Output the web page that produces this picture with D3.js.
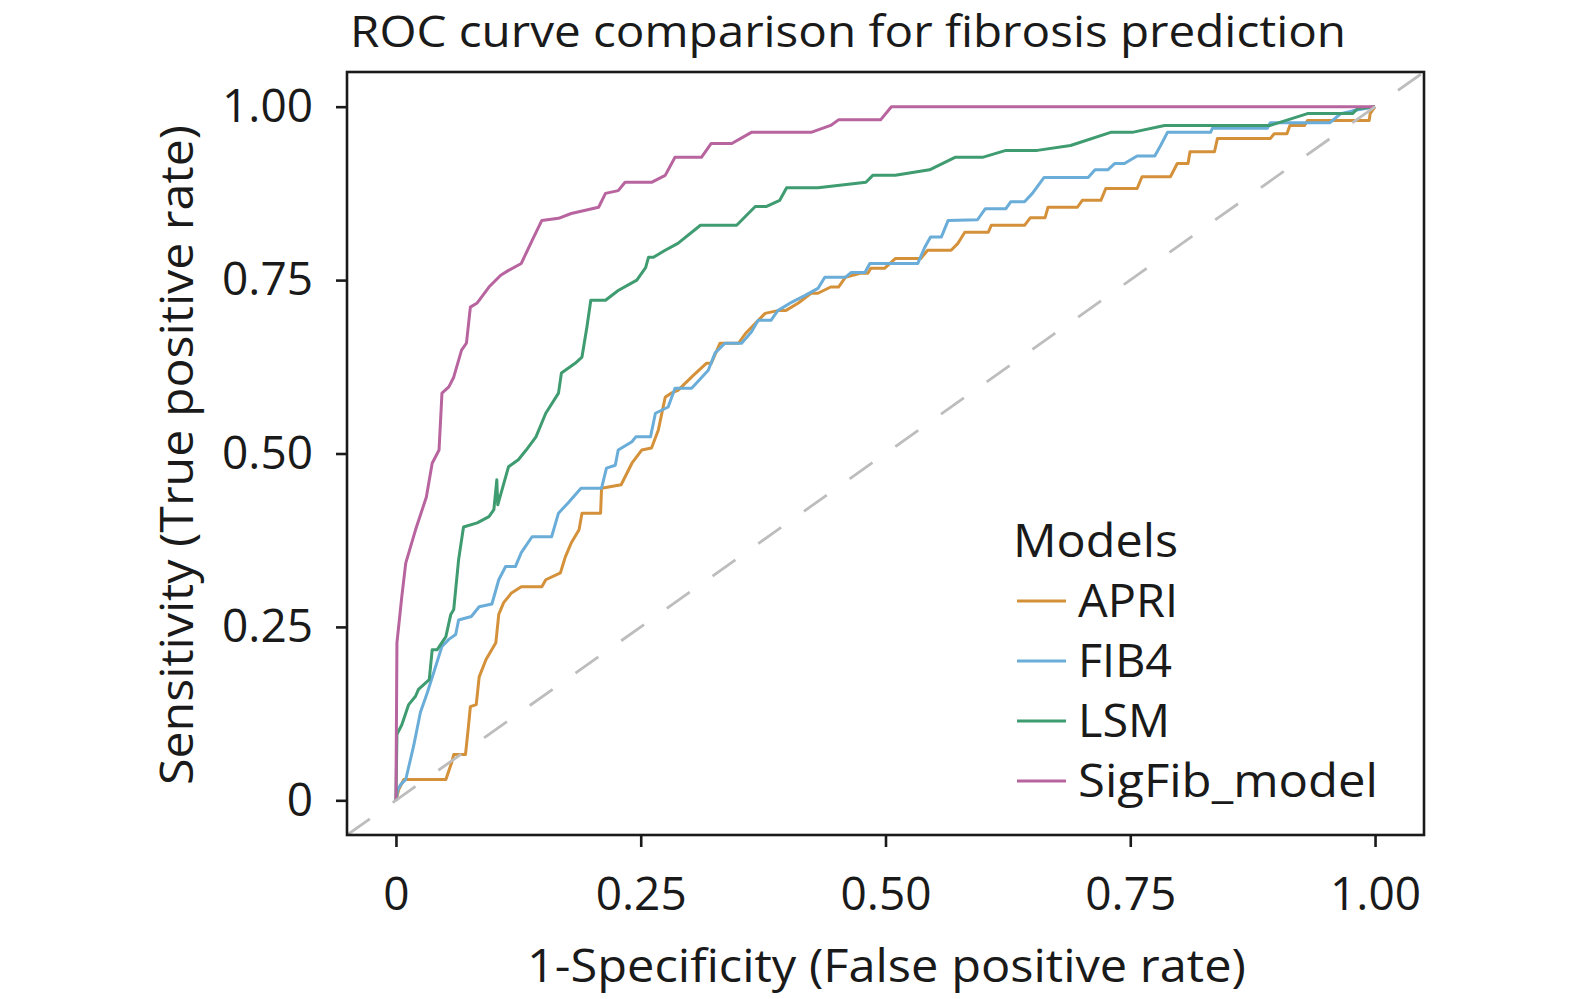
<!DOCTYPE html>
<html>
<head>
<meta charset="utf-8">
<script src="https://cdn.jsdelivr.net/npm/d3@7"></script>
<style>
  html, body { margin: 0; padding: 0; background: white; overflow: hidden; }
  svg { display: block; }
  text { font-family: "Open Sans", Lato, sans-serif; fill: #1a1a1a; }
</style>
</head>
<body>
<div id="chart"></div>
<script>
// ROC points: [1-specificity, sensitivity]
const apriRoc = [[0,0],[0.003,0.016],[0.008,0.030],[0.051,0.030],[0.057,0.055],[0.059,0.066],[0.071,0.066],
  [0.074,0.106],[0.076,0.135],[0.082,0.138],[0.085,0.178],[0.092,0.203],[0.102,0.227],[0.105,0.268],
  [0.110,0.285],[0.118,0.299],[0.128,0.308],[0.149,0.308],[0.153,0.318],[0.168,0.328],[0.173,0.351],
  [0.179,0.371],[0.187,0.390],[0.190,0.414],[0.209,0.414],[0.210,0.450],[0.230,0.455],[0.241,0.486],
  [0.251,0.505],[0.261,0.508],[0.268,0.534],[0.275,0.581],[0.281,0.587],[0.288,0.591],[0.304,0.613],
  [0.317,0.630],[0.322,0.630],[0.331,0.659],[0.350,0.659],[0.357,0.673],[0.377,0.702],[0.390,0.706],
  [0.398,0.706],[0.411,0.717],[0.424,0.731],[0.431,0.731],[0.444,0.740],[0.452,0.740],[0.459,0.754],
  [0.475,0.760],[0.482,0.760],[0.485,0.767],[0.499,0.767],[0.510,0.781],[0.536,0.781],[0.543,0.793],
  [0.567,0.793],[0.574,0.803],[0.581,0.819],[0.605,0.819],[0.608,0.829],[0.642,0.829],[0.648,0.840],
  [0.663,0.840],[0.666,0.855],[0.696,0.855],[0.701,0.865],[0.720,0.865],[0.725,0.882],[0.757,0.882],
  [0.762,0.899],[0.791,0.899],[0.798,0.918],[0.809,0.918],[0.811,0.935],[0.836,0.935],[0.839,0.954],
  [0.893,0.954],[0.897,0.961],[0.910,0.961],[0.913,0.973],[0.928,0.973],[0.931,0.980],[0.994,0.980],
  [0.995,0.990],[1,1]];

const fib4Roc = [[0,0],[0.002,0.016],[0.005,0.023],[0.010,0.030],[0.018,0.078],[0.025,0.127],[0.032,0.155],
  [0.039,0.186],[0.047,0.222],[0.054,0.232],[0.061,0.239],[0.064,0.260],[0.077,0.265],[0.085,0.279],
  [0.098,0.283],[0.105,0.318],[0.112,0.337],[0.122,0.337],[0.128,0.357],[0.139,0.380],[0.159,0.380],
  [0.166,0.414],[0.176,0.429],[0.189,0.450],[0.210,0.450],[0.215,0.479],[0.224,0.483],[0.227,0.505],
  [0.241,0.517],[0.245,0.524],[0.260,0.524],[0.265,0.558],[0.278,0.567],[0.285,0.594],[0.302,0.594],
  [0.319,0.620],[0.326,0.645],[0.336,0.659],[0.353,0.659],[0.363,0.675],[0.370,0.692],[0.383,0.692],
  [0.390,0.706],[0.404,0.718],[0.418,0.728],[0.431,0.738],[0.438,0.754],[0.459,0.754],[0.465,0.761],
  [0.479,0.761],[0.484,0.774],[0.533,0.774],[0.540,0.797],[0.546,0.812],[0.557,0.812],[0.564,0.836],
  [0.594,0.837],[0.602,0.853],[0.623,0.853],[0.628,0.863],[0.642,0.863],[0.650,0.875],[0.662,0.898],
  [0.707,0.898],[0.714,0.909],[0.727,0.909],[0.734,0.918],[0.744,0.918],[0.757,0.929],[0.775,0.929],
  [0.781,0.944],[0.788,0.963],[0.832,0.963],[0.834,0.969],[0.890,0.969],[0.893,0.977],[0.954,0.977],
  [0.965,0.990],[0.977,0.994],[1,1]];

const lsmRoc = [[0,0],[0.001,0.095],[0.006,0.109],[0.013,0.138],[0.020,0.150],[0.023,0.160],[0.034,0.174],
  [0.037,0.217],[0.042,0.217],[0.051,0.236],[0.056,0.268],[0.059,0.275],[0.064,0.347],[0.069,0.394],
  [0.083,0.400],[0.095,0.409],[0.100,0.419],[0.103,0.462],[0.104,0.426],[0.115,0.481],[0.125,0.491],
  [0.133,0.505],[0.143,0.524],[0.153,0.558],[0.166,0.587],[0.169,0.616],[0.183,0.630],[0.190,0.639],
  [0.195,0.682],[0.199,0.721],[0.214,0.721],[0.227,0.735],[0.246,0.750],[0.255,0.768],[0.258,0.783],
  [0.263,0.783],[0.275,0.793],[0.288,0.803],[0.311,0.829],[0.348,0.829],[0.367,0.856],[0.378,0.856],
  [0.392,0.865],[0.399,0.883],[0.431,0.883],[0.480,0.891],[0.487,0.901],[0.510,0.901],[0.545,0.909],
  [0.571,0.927],[0.599,0.927],[0.623,0.937],[0.655,0.937],[0.689,0.944],[0.730,0.963],[0.752,0.963],
  [0.785,0.973],[0.893,0.973],[0.931,0.990],[0.977,0.990],[0.982,0.997],[1,1]];

const sigfibRoc = [[0,0],[0.001,0.227],[0.006,0.294],[0.010,0.342],[0.020,0.390],[0.031,0.437],[0.037,0.486],
  [0.044,0.505],[0.047,0.587],[0.054,0.596],[0.059,0.610],[0.067,0.649],[0.072,0.659],[0.076,0.711],
  [0.083,0.717],[0.095,0.740],[0.107,0.757],[0.115,0.764],[0.128,0.774],[0.139,0.807],[0.149,0.836],
  [0.166,0.839],[0.179,0.846],[0.207,0.855],[0.214,0.875],[0.227,0.879],[0.234,0.891],[0.261,0.891],
  [0.275,0.901],[0.285,0.927],[0.312,0.927],[0.322,0.947],[0.343,0.947],[0.363,0.963],[0.424,0.963],
  [0.444,0.973],[0.452,0.981],[0.495,0.981],[0.506,1],[1,1]];

const models = ["APRI", "FIB4", "LSM", "SigFib_model"];
const modelColors = ["#d4913a", "#6aadd8", "#3f9b70", "#b7649f"];
const xTicks = [0, 0.25, 0.5, 0.75, 1];
const yTicks = [0, 0.25, 0.5, 0.75, 1];
const tickLabels = ["0", "0.25", "0.50", "0.75", "1.00"];

const series = [apriRoc, fib4Roc, lsmRoc, sigfibRoc];

const W = 1575, H = 999;
const panel = { left: 347, right: 1424, top: 72, bottom: 835 };

const svg = d3.select("#chart")
    .append("svg")
    .attr("width", W)
    .attr("height", H);

// ggplot style 5% expansion
const x = d3.scaleLinear().domain([-0.05, 1.05]).range([panel.left, panel.right]);
const y = d3.scaleLinear().domain([-0.05, 1.05]).range([panel.bottom, panel.top]);

svg.append("defs").append("clipPath").attr("id", "clip")
    .append("rect")
    .attr("x", panel.left).attr("y", panel.top)
    .attr("width", panel.right - panel.left)
    .attr("height", panel.bottom - panel.top);

const plot = svg.append("g").attr("clip-path", "url(#clip)");

const line = d3.line()
    .x(d => x(d[0]))
    .y(d => y(d[1]));

series.forEach((s, i) => {
    plot.append("path")
        .datum(s)
        .attr("fill", "none")
        .attr("stroke", modelColors[i])
        .attr("stroke-width", 3)
        .attr("stroke-linejoin", "round")
        .attr("d", line);
});

// diagonal reference line (abline) across whole panel
plot.append("line")
    .attr("x1", x(-0.05)).attr("y1", y(-0.05))
    .attr("x2", x(1.05)).attr("y2", y(1.05))
    .attr("stroke", "#bdbdbd")
    .attr("stroke-width", 2.8)
    .attr("stroke-dasharray", "28 28");

// panel border
svg.append("rect")
    .attr("x", panel.left).attr("y", panel.top)
    .attr("width", panel.right - panel.left)
    .attr("height", panel.bottom - panel.top)
    .attr("fill", "none")
    .attr("stroke", "#1a1a1a")
    .attr("stroke-width", 2.6);

// axes
const xAxis = svg.append("g")
    .attr("transform", `translate(0,${panel.bottom})`)
    .call(d3.axisBottom(x).tickValues(xTicks).tickSize(12).tickPadding(30)
        .tickFormat((d, i) => tickLabels[i]));
const yAxis = svg.append("g")
    .attr("transform", `translate(${panel.left},0)`)
    .call(d3.axisLeft(y).tickValues(yTicks).tickSize(11).tickPadding(23)
        .tickFormat((d, i) => tickLabels[i]));

[xAxis, yAxis].forEach(a => {
    a.select(".domain").remove();
    a.selectAll(".tick line").attr("stroke", "#1a1a1a").attr("stroke-width", 2.6);
    a.selectAll(".tick text")
        .style("font-family", "'Open Sans', sans-serif")
        .style("font-size", "46px")
        .attr("fill", "#1a1a1a");
});

// title
svg.append("text")
    .attr("x", 350)
    .attr("y", 47)
    .style("font-size", "43px")
    .attr("textLength", 996)
    .attr("lengthAdjust", "spacingAndGlyphs")
    .text("ROC curve comparison for fibrosis prediction");

// axis titles
svg.append("text")
    .attr("x", 527)
    .attr("y", 982)
    .style("font-size", "45px")
    .attr("textLength", 719)
    .attr("lengthAdjust", "spacingAndGlyphs")
    .text("1-Specificity (False positive rate)");

svg.append("text")
    .attr("transform", "rotate(-90)")
    .attr("x", -785)
    .attr("y", 193)
    .style("font-size", "45px")
    .attr("textLength", 660)
    .attr("lengthAdjust", "spacingAndGlyphs")
    .text("Sensitivity (True positive rate)");

// legend
const legendWidths = [100, 94, 92, 300];
const legend = svg.append("g").attr("transform", "translate(1013,0)");
legend.append("text")
    .attr("x", 0).attr("y", 557)
    .style("font-size", "45px")
    .attr("textLength", 165)
    .attr("lengthAdjust", "spacingAndGlyphs")
    .text("Models");

models.forEach((m, i) => {
    const ky = 601 + i * 60;
    legend.append("line")
        .attr("x1", 4).attr("x2", 53)
        .attr("y1", ky).attr("y2", ky)
        .attr("stroke", modelColors[i])
        .attr("stroke-width", 2.8);
    legend.append("text")
        .attr("x", 65).attr("y", ky + 16)
        .style("font-size", "45px")
        .attr("textLength", legendWidths[i])
        .attr("lengthAdjust", "spacingAndGlyphs")
        .text(m);
});
</script>
</body>
</html>
